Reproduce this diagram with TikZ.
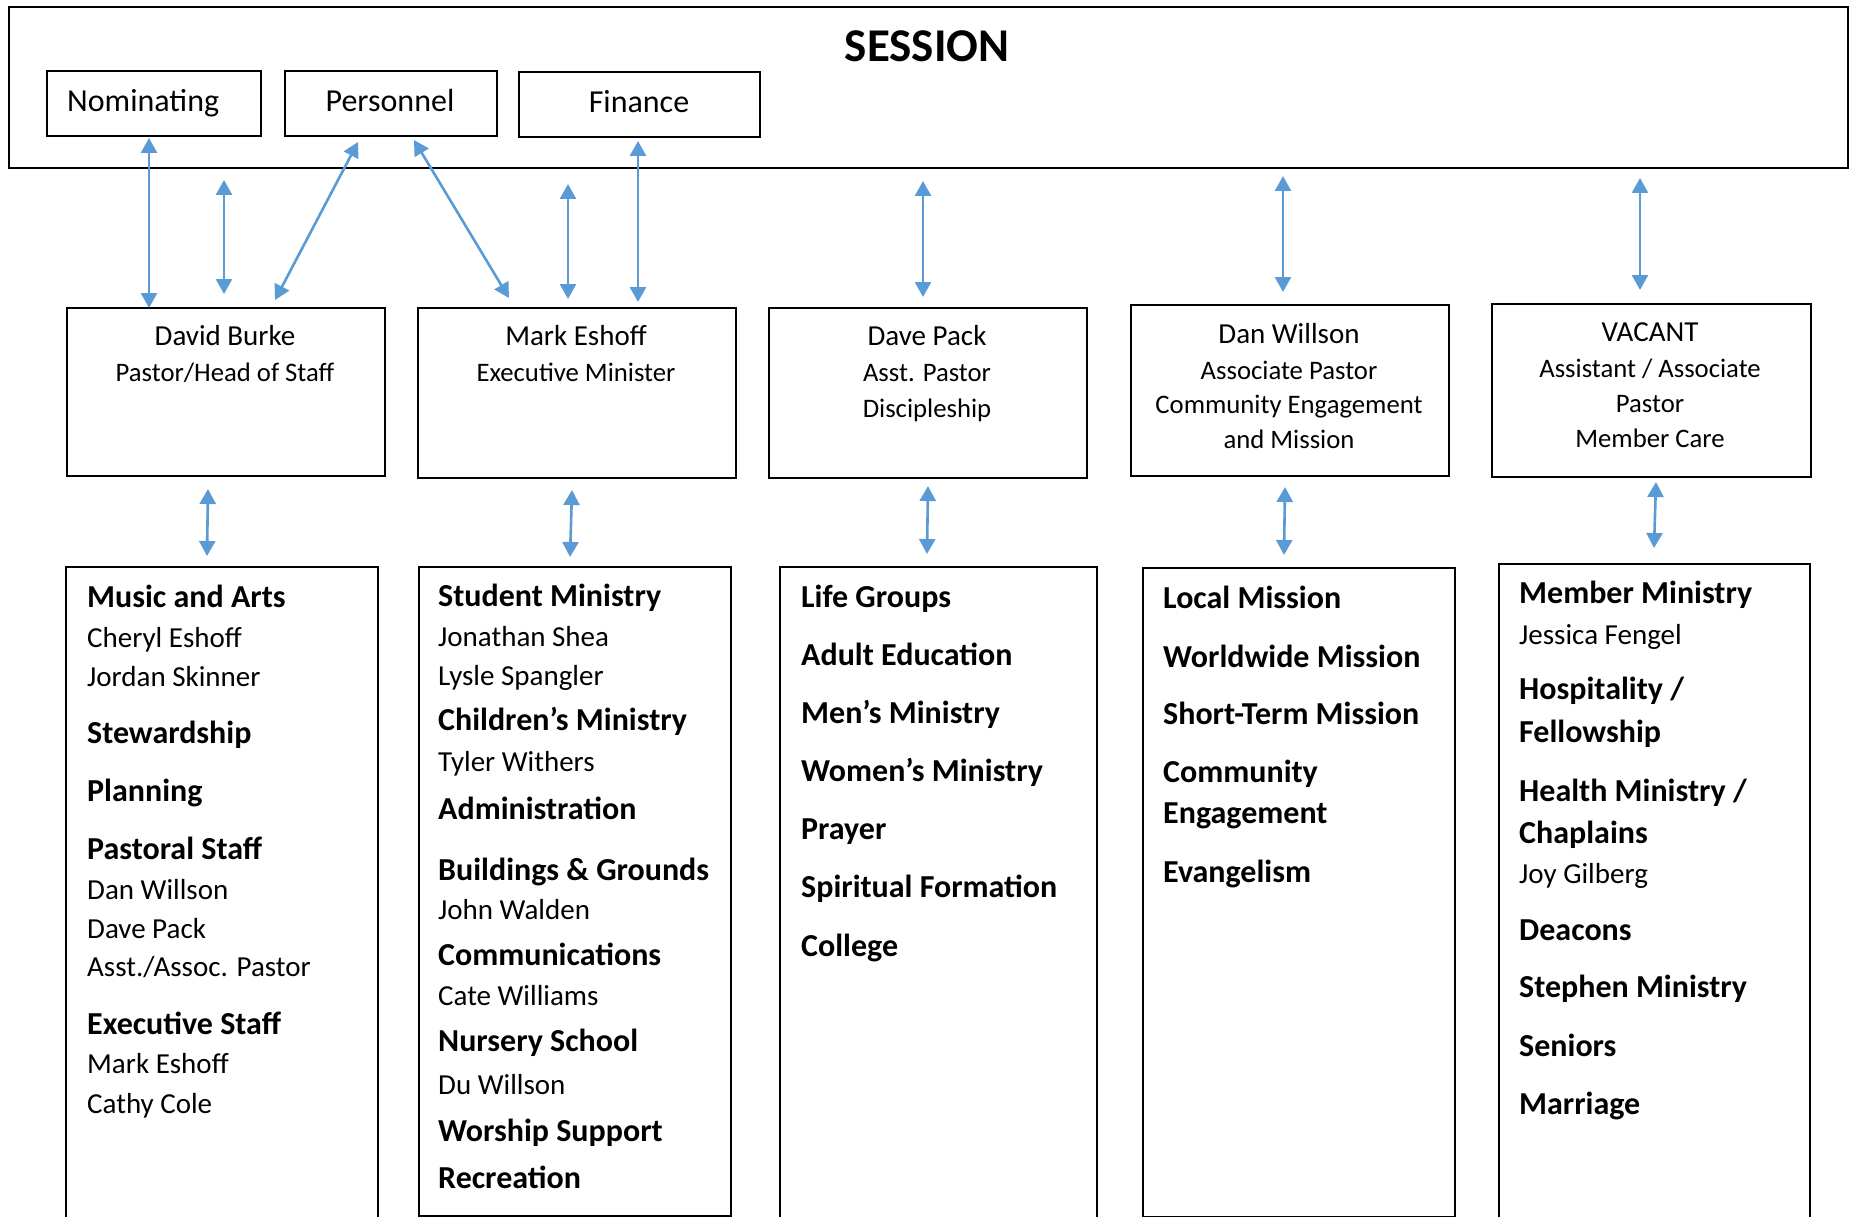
\documentclass[tikz,border=0pt]{standalone}
\usepackage{fontspec}
\setmainfont{Carlito}
\usetikzlibrary{arrows.meta}
\definecolor{linkblue}{HTML}{5B9BD5}
\begin{document}
\begin{tikzpicture}[x=1pt,y=-1pt,
  frame/.style={draw=black, line width=2pt, inner sep=0pt, anchor=north west},
  hollow/.style={inner sep=0pt, anchor=north west},
  link/.style={draw=linkblue, line width=2.6pt,
    {Triangle[length=15pt,width=16pt]}-{Triangle[length=15pt,width=16pt]}},
  hd/.style={anchor=base west, inner sep=0pt, font=\bfseries\fontsize{32}{38}\selectfont},
  nm/.style={anchor=base west, inner sep=0pt, font=\fontsize{29}{35}\selectfont},
  ttl/.style={anchor=base, inner sep=0pt, font=\fontsize{29}{35}\selectfont},
  sub/.style={anchor=base, inner sep=0pt, font=\fontsize{26.7}{32}\selectfont},
  cmt/.style={inner sep=0pt, font=\fontsize{32}{38}\selectfont}]
\useasboundingbox[fill=white] (0,0) rectangle (1853,1217);

% ---------- Session and its committees ----------
\node[frame, line width=2.4pt, minimum width=1839pt, minimum height=161pt] (session) at (8,6) {};
\node[anchor=base, inner sep=0pt, font=\bfseries\fontsize{47}{56}\selectfont] (sessiontitle) at (927,62) {SESSION};

\node[frame, minimum width=214pt, minimum height=65pt] (nom) at (46,70) {};
\node[frame, minimum width=212pt, minimum height=65pt] (per) at (284,70) {};
\node[frame, minimum width=241pt, minimum height=65pt] (fin) at (518,71) {};
\node[cmt, anchor=base west] (nomtxt) at (67,112) {Nominating};
\node[cmt, anchor=base] (pertxt) at (390,112) {Personnel};
\node[cmt, anchor=base] (fintxt) at (639,113) {Finance};

% ---------- Staff ----------
\node[frame, minimum width=318pt, minimum height=168pt] (burke) at (66,307) {};
\node[frame, minimum width=318pt, minimum height=170pt] (eshoff) at (417,307) {};
\node[frame, minimum width=318pt, minimum height=170pt] (pack) at (768,307) {};
\node[frame, minimum width=318pt, minimum height=171pt] (willson) at (1130,304) {};
\node[frame, minimum width=319pt, minimum height=173pt] (vacant) at (1491,303) {};

\node[ttl] (burke1) at (225,345) {David Burke};
\node[sub] (burke2) at (225,381) {Pastor/Head of Staff};

\node[ttl] (eshoff1) at (576,345) {Mark Eshoff};
\node[sub] (eshoff2) at (576,381) {Executive Minister};

\node[ttl] (pack1) at (927,345) {Dave Pack};
\node[sub] (pack2) at (927,381) {Asst. Pastor};
\node[sub] (pack3) at (927,417) {Discipleship};

\node[ttl] (willson1) at (1289,343) {Dan Willson};
\node[sub] (willson2) at (1289,379) {Associate Pastor};
\node[sub] (willson3) at (1289,413) {Community Engagement};
\node[sub] (willson4) at (1289,448) {and Mission};

\node[ttl] (vacant1) at (1650,341) {VACANT};
\node[sub] (vacant2) at (1650,377) {Assistant / Associate};
\node[sub] (vacant3) at (1650,412) {Pastor};
\node[sub] (vacant4) at (1650,447) {Member Care};

% ---------- Ministry areas ----------
\node[hollow, minimum width=312pt, minimum height=650pt] (area1) at (66,567) {};
\draw[line width=2pt] (area1.south west) |- (area1.north east) -- (area1.south east);
\node[frame, minimum width=312pt, minimum height=649pt] (area2) at (418,566) {};
\node[hollow, minimum width=317pt, minimum height=650pt] (area3) at (780,567) {};
\draw[line width=2pt] (area3.south west) |- (area3.north east) -- (area3.south east);
\node[frame, minimum width=312pt, minimum height=649pt] (area4) at (1142,567) {};
\node[hollow, minimum width=311pt, minimum height=653pt] (area5) at (1499,564) {};
\draw[line width=2pt] (area5.south west) |- (area5.north east) -- (area5.south east);

% column 1
\node[hd] (c1a) at (87,607) {Music and Arts};
\node[nm] (c1b) at (87,647) {Cheryl Eshoff};
\node[nm] (c1c) at (87,686) {Jordan Skinner};
\node[hd] (c1d) at (87,743) {Stewardship};
\node[hd] (c1e) at (87,801) {Planning};
\node[hd] (c1f) at (87,859) {Pastoral Staff};
\node[nm] (c1g) at (87,899) {Dan Willson};
\node[nm] (c1h) at (87,938) {Dave Pack};
\node[nm] (c1i) at (87,976) {Asst./Assoc. Pastor};
\node[hd] (c1j) at (87,1034) {Executive Staff};
\node[nm] (c1k) at (87,1073) {Mark Eshoff};
\node[nm] (c1l) at (87,1113) {Cathy Cole};

% column 2
\node[hd] (c2a) at (438,606) {Student Ministry};
\node[nm] (c2b) at (438,646) {Jonathan Shea};
\node[nm] (c2c) at (438,685) {Lysle Spangler};
\node[hd] (c2d) at (438,730) {Children’s Ministry};
\node[nm] (c2e) at (438,771) {Tyler Withers};
\node[hd] (c2f) at (438,819) {Administration};
\node[hd] (c2g) at (438,880) {Buildings \& Grounds};
\node[nm] (c2h) at (438,919) {John Walden};
\node[hd] (c2i) at (438,965) {Communications};
\node[nm] (c2j) at (438,1005) {Cate Williams};
\node[hd] (c2k) at (438,1051) {Nursery School};
\node[nm] (c2l) at (438,1094) {Du Willson};
\node[hd] (c2m) at (438,1141) {Worship Support};
\node[hd] (c2n) at (438,1188) {Recreation};

% column 3
\node[hd] (c3a) at (801,607) {Life Groups};
\node[hd] (c3b) at (801,665) {Adult Education};
\node[hd] (c3c) at (801,723) {Men’s Ministry};
\node[hd] (c3d) at (801,781) {Women’s Ministry};
\node[hd] (c3e) at (801,839) {Prayer};
\node[hd] (c3f) at (801,897) {Spiritual Formation};
\node[hd] (c3g) at (801,956) {College};

% column 4
\node[hd] (c4a) at (1163,608) {Local Mission};
\node[hd] (c4b) at (1163,667) {Worldwide Mission};
\node[hd] (c4c) at (1163,724) {Short-Term Mission};
\node[hd] (c4d) at (1163,782) {Community};
\node[hd] (c4e) at (1163,823) {Engagement};
\node[hd] (c4f) at (1163,882) {Evangelism};

% column 5
\node[hd] (c5a) at (1519,603) {Member Ministry};
\node[nm] (c5b) at (1519,644) {Jessica Fengel};
\node[hd] (c5c) at (1519,699) {Hospitality /};
\node[hd] (c5d) at (1519,742) {Fellowship};
\node[hd] (c5e) at (1519,801) {Health Ministry /};
\node[hd] (c5f) at (1519,843) {Chaplains};
\node[nm] (c5g) at (1519,883) {Joy Gilberg};
\node[hd] (c5h) at (1519,940) {Deacons};
\node[hd] (c5i) at (1519,997) {Stephen Ministry};
\node[hd] (c5j) at (1519,1056) {Seniors};
\node[hd] (c5k) at (1519,1114) {Marriage};

% ---------- Connector ends ----------
\coordinate (s1a) at (149,138);  \coordinate (s1b) at (149,308);
\coordinate (s2a) at (224,180);  \coordinate (s2b) at (224,294);
\coordinate (s3a) at (358,142);  \coordinate (s3b) at (275,300);
\coordinate (s4a) at (414,140);  \coordinate (s4b) at (509,298);
\coordinate (s5a) at (568,184);  \coordinate (s5b) at (568,299);
\coordinate (s6a) at (638,141);  \coordinate (s6b) at (638,302);
\coordinate (s7a) at (923,181);  \coordinate (s7b) at (923,297);
\coordinate (s8a) at (1283,176); \coordinate (s8b) at (1283,292);
\coordinate (s9a) at (1640,178); \coordinate (s9b) at (1640,290);

\coordinate (m1a) at (208,489);  \coordinate (m1b) at (207,556);
\coordinate (m2a) at (572,490);  \coordinate (m2b) at (570,557);
\coordinate (m3a) at (928,486);  \coordinate (m3b) at (927,554);
\coordinate (m4a) at (1285,487); \coordinate (m4b) at (1284,555);
\coordinate (m5a) at (1656,482); \coordinate (m5b) at (1654,548);

% ---------- Connectors ----------
\foreach \i in {1,...,9} { \draw[link] (s\i a) -- (s\i b); }
\foreach \i in {1,...,5} { \draw[link] (m\i a) -- (m\i b); }
\end{tikzpicture}
\end{document}
